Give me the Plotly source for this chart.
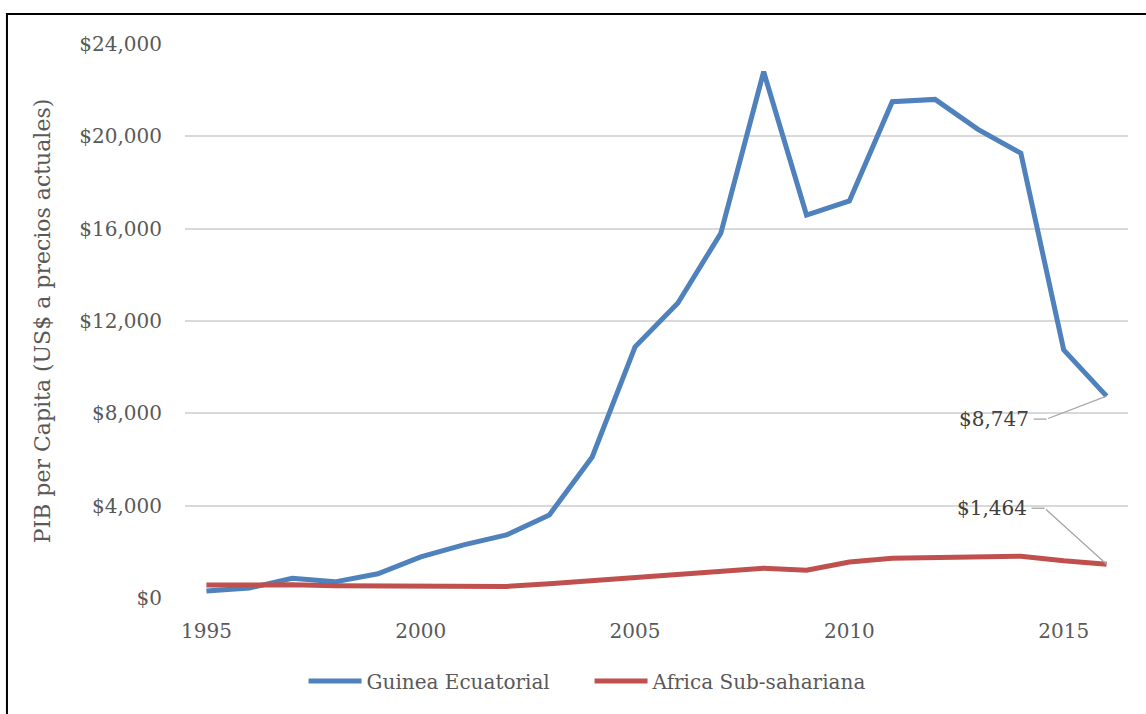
import plotly.graph_objects as go

# PIB per cápita (US$ a precios actuales), 1995-2016
years = list(range(1995, 2017))
guinea_ecuatorial = [300, 430, 850, 700, 1050, 1780, 2300, 2730, 3600, 6110,
                     10880, 12780, 15800, 22800, 16590, 17200, 21500, 21600,
                     20300, 19270, 10750, 8747]
africa_subsahariana = [560, 570, 570, 530, 510, 530, 490, 500, 620, 760,
                       900, 1010, 1150, 1290, 1200, 1560, 1720, 1740, 1770,
                       1810, 1610, 1464]

y_ticks = [0, 4000, 8000, 12000, 16000, 20000, 24000]
y_tick_text = [f"${v:,}" for v in y_ticks]
x_ticks = [1995, 2000, 2005, 2010, 2015]

BLUE = "#4F81BD"
RED = "#C0504D"
FONT = "DejaVu Serif"
TEXT = "#595959"

fig = go.Figure()
fig.add_trace(go.Scatter(x=years, y=guinea_ecuatorial, mode="lines",
                         name="Guinea Ecuatorial",
                         line=dict(color=BLUE, width=5)))
fig.add_trace(go.Scatter(x=years, y=africa_subsahariana, mode="lines",
                         name="Africa Sub-sahariana",
                         line=dict(color=RED, width=5)))

# value labels on the last year with elbow leader lines
last_year = years[-1]
labels = [
    (guinea_ecuatorial[-1], -60, 23),
    (africa_subsahariana[-1], -62, -56),
]
for val, ax, ay in labels:
    fig.add_annotation(x=last_year, y=val, text="", showarrow=True,
                       arrowhead=0, arrowwidth=1.3, arrowcolor="#A6A6A6",
                       ax=ax, ay=ay, standoff=0, startstandoff=0)
    fig.add_shape(type="line", xref="x", yref="y",
                  xsizemode="pixel", ysizemode="pixel",
                  xanchor=last_year, yanchor=val,
                  x0=ax - 13, x1=ax, y0=-ay, y1=-ay,
                  line=dict(color="#A6A6A6", width=1.3))
    fig.add_annotation(x=last_year, y=val, text=f"${val:,.0f}",
                       showarrow=False, xanchor="right", yanchor="middle",
                       xshift=ax - 16, yshift=-ay,
                       font=dict(family=FONT, size=20, color="#404040"))

# outer chart frame
fig.add_shape(type="rect", xref="paper", yref="paper",
              x0=-0.1888, x1=1.03, y0=-0.23, y1=1.0542,
              line=dict(color="black", width=2), layer="below")

fig.update_layout(
    width=1146, height=714,
    margin=dict(l=185, r=18, t=44, b=116),
    paper_bgcolor="white", plot_bgcolor="white",
    font=dict(family=FONT, size=20, color=TEXT),
    showlegend=True,
    legend=dict(orientation="h", x=0.429, xanchor="center",
                y=-0.15, yanchor="middle",
                itemwidth=53,
                entrywidth=218, entrywidthmode="pixels",
                font=dict(family=FONT, size=20, color=TEXT)),
)
fig.update_xaxes(range=[1994.5, 2016.5], tickvals=x_ticks,
                 showgrid=False, zeroline=False, showline=False,
                 ticks="", ticklabelstandoff=19,
                 tickfont=dict(family=FONT, size=20, color=TEXT))
fig.update_yaxes(range=[0, 24000], tickvals=y_ticks, ticktext=y_tick_text,
                 showgrid=True, gridcolor="#D9D9D9", gridwidth=1.5,
                 zeroline=False, showline=False, ticks="",
                 ticklabelstandoff=22,
                 tickfont=dict(family=FONT, size=20, color=TEXT),
                 title=dict(text="PIB per Capita (US$ a precios actuales)",
                            font=dict(family=FONT, size=22, color=TEXT),
                            standoff=22))

fig.write_html("out.html")
